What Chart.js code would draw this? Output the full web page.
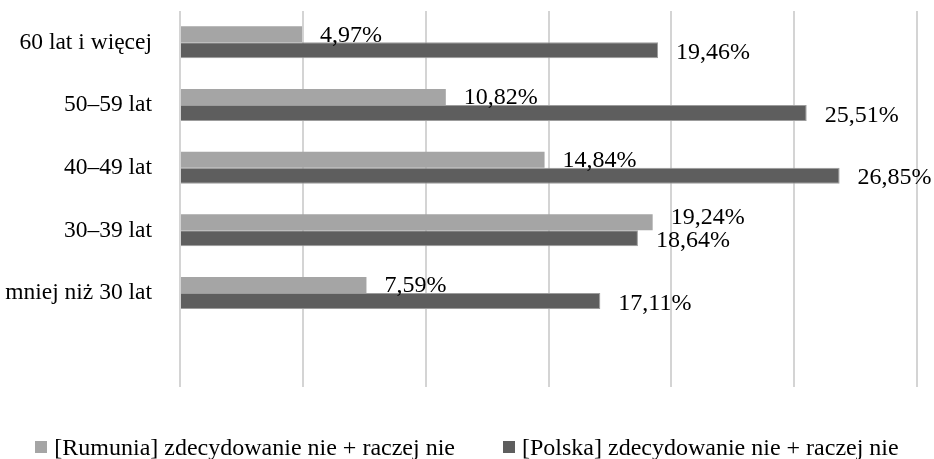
<!DOCTYPE html>
<html>
<head>
<meta charset="utf-8">
<script src="https://cdn.jsdelivr.net/npm/chart.js@4"></script>
<style>
  body { margin: 0; background: #fff; }
  #wrap { position: relative; width: 934px; height: 459px; }
  #legend {
    position: absolute; left: 0; top: 435px; width: 934px;
    display: flex; justify-content: center; gap: 48px;
    font: 24px/24px 'Liberation Serif', 'Times New Roman', serif; color: #000;
  }
  #legend span.item { display: flex; align-items: center; white-space: nowrap; }
  #legend span.box { width: 12px; height: 12px; margin-right: 7px; }
</style>
</head>
<body>
<div id="wrap"><canvas id="ageChart"></canvas><div id="legend"></div></div>
<script>
// categories top to bottom; last slot is empty in the original
const ageGroups = ['60 lat i więcej', '50–59 lat', '40–49 lat', '30–39 lat', 'mniej niż 30 lat', ''];
const rumunia = [4.97, 10.82, 14.84, 19.24, 7.59, null];
const polska = [19.46, 25.51, 26.85, 18.64, 17.11, null];
const seriesNames = ['[Rumunia] zdecydowanie nie + raczej nie', '[Polska] zdecydowanie nie + raczej nie'];

const FONT = 'Liberation Serif, Times New Roman, serif';

// value labels to the right of each bar, nudged apart when they collide
const barLabels = {
  id: 'barLabels',
  afterDatasetsDraw(chart) {
    const ctx = chart.ctx;
    ctx.save();
    ctx.font = '24px ' + FONT;
    ctx.fillStyle = '#000';
    ctx.textAlign = 'left';
    ctx.textBaseline = 'middle';
    const light = chart.getDatasetMeta(0).data;
    const dark = chart.getDatasetMeta(1).data;
    light.forEach((bar, i) => {
      const v1 = chart.data.datasets[0].data[i];
      const v2 = chart.data.datasets[1].data[i];
      if (v1 == null) return;
      const t1 = v1.toFixed(2).replace('.', ',') + '%';
      const t2 = v2.toFixed(2).replace('.', ',') + '%';
      const b2 = dark[i];
      const x1 = bar.x + 18, x2 = b2.x + 18;
      let y1 = bar.y + 1, y2 = b2.y + 2.5;
      const w1 = ctx.measureText(t1).width, w2 = ctx.measureText(t2).width;
      if (x1 < x2 + w2 && x2 < x1 + w1 && y2 - y1 < 23) y1 = y2 - 23.5;
      ctx.fillText(t1, x1, y1);
      ctx.fillText(t2, x2, y2);
    });
    ctx.restore();
  }
};

const chart = new Chart(document.getElementById('ageChart').getContext('2d'), {
  type: 'bar',
  data: {
    labels: ageGroups,
    datasets: [{
      label: seriesNames[0],
      data: rumunia,
      backgroundColor: '#a5a5a5',
      borderWidth: 0
    }, {
      label: seriesNames[1],
      data: polska,
      backgroundColor: '#5e5e5e',
      borderColor: '#9c9c9c',
      borderWidth: 1
    }]
  },
  options: {
    indexAxis: 'y',
    responsive: true,
    maintainAspectRatio: false,
    animation: false,
    categoryPercentage: 0.51,
    barPercentage: 1,
    layout: { padding: { top: 11, right: 17, left: 0, bottom: 72 } },
    scales: {
      x: {
        min: 0,
        max: 30,
        ticks: { display: false, stepSize: 5 },
        grid: { color: '#d4d4d4', lineWidth: 2, drawTicks: false },
        border: { display: false },
        afterFit(scale) { scale.height = 0; scale.paddingLeft = 0; scale.paddingRight = 0; }
      },
      y: {
        ticks: { color: '#000', font: { family: FONT, size: 23.5 }, padding: 20 },
        grid: { display: false },
        border: { display: false },
        afterFit(scale) { scale.width = 180; scale.paddingTop = 0; scale.paddingBottom = 0; }
      }
    },
    plugins: {
      legend: { display: false },
      tooltip: { enabled: false }
    }
  },
  plugins: [barLabels]
});

// legend built from the chart's own datasets
const legendEl = document.getElementById('legend');
chart.data.datasets.forEach(ds => {
  const item = document.createElement('span');
  item.className = 'item';
  const box = document.createElement('span');
  box.className = 'box';
  box.style.background = ds.backgroundColor;
  item.appendChild(box);
  item.appendChild(document.createTextNode(ds.label));
  legendEl.appendChild(item);
});
</script>
</body>
</html>
